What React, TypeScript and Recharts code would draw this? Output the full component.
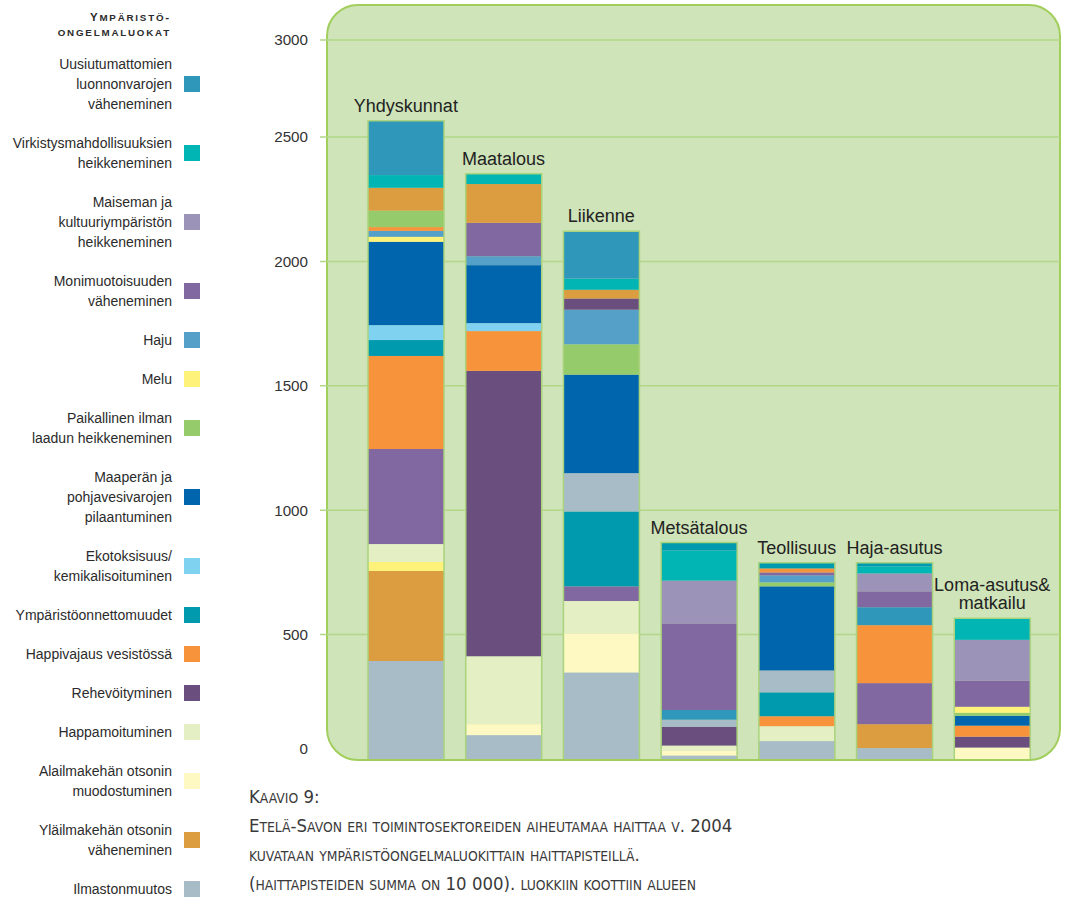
import React from 'react';
import { ComposedChart, Bar, Line, XAxis, YAxis, CartesianGrid } from 'recharts';

// ---------- DATA ----------
const categories = [
  'Yhdyskunnat',
  'Maatalous',
  'Liikenne',
  'Metsätalous',
  'Teollisuus',
  'Haja-asutus',
  'Loma-asutus&\nmatkailu',
];

// stack order, bottom -> top
const seriesNames = [
  'Ilmastonmuutos',
  'Yläilmakehän otsonin\nväheneminen',
  'Alailmakehän otsonin\nmuodostuminen',
  'Happamoituminen',
  'Rehevöityminen',
  'Happivajaus vesistössä',
  'Ympäristöonnettomuudet',
  'Ekotoksisuus/\nkemikalisoituminen',
  'Maaperän ja\npohjavesivarojen\npilaantuminen',
  'Paikallinen ilman\nlaadun heikkeneminen',
  'Melu',
  'Haju',
  'Monimuotoisuuden\nväheneminen',
  'Maiseman ja\nkultuuriympäristön\nheikkeneminen',
  'Virkistysmahdollisuuksien\nheikkeneminen',
  'Uusiutumattomien\nluonnonvarojen\nväheneminen',
];

const seriesColors = [
  '#a8bcc8', '#dc9c40', '#fef8c2', '#e4efc4', '#6a4f7e', '#f7943b', '#009aaf', '#80d3f0',
  '#0065ac', '#96cb6c', '#fff27a', '#55a0c8', '#8268a0', '#9c93b8', '#00b5b4', '#2e97ba',
];

const ilmastonmuutos = [394, 96, 348, 14, 72, 44, 0];
const ylailmakehanOtsoni = [362, 0, 0, 0, 0, 96, 0];
const alailmakehanOtsoni = [36, 44, 157, 20, 0, 0, 46];
const happamoituminen = [72, 273, 130, 20, 60, 0, 0];
const rehevoityminen = [382, 1147, 59, 76, 0, 165, 44];
const happivajaus = [374, 160, 0, 0, 40, 233, 44];
const ymparistoonnettomuudet = [64, 0, 301, 0, 96, 0, 0];
const ekotoksisuus = [60, 32, 154, 28, 88, 0, 0];
const maapera = [335, 233, 396, 0, 338, 0, 40];
const paikallinenIlma = [20, 0, 122, 0, 16, 0, 12];
const melu = [24, 0, 0, 0, 0, 0, 24];
const haju = [15, 36, 139, 39, 28, 72, 0];
const monimuotoisuus = [66, 134, 45, 348, 12, 64, 104];
const maisema = [92, 156, 35, 172, 16, 72, 165];
const virkistys = [51, 41, 45, 121, 0, 28, 87];
const uusiutumattomat = [218, 0, 190, 32, 23, 15, 0];

const seriesValues = [
  ilmastonmuutos, ylailmakehanOtsoni, alailmakehanOtsoni, happamoituminen,
  rehevoityminen, happivajaus, ymparistoonnettomuudet, ekotoksisuus,
  maapera, paikallinenIlma, melu, haju, monimuotoisuus, maisema, virkistys, uusiutumattomat,
];

const yTicks = [0, 500, 1000, 1500, 2000, 2500, 2890];
const yTickLabels = ['0', '500', '1000', '1500', '2000', '2500', '3000'];
const gridValues = [500, 1000, 1500, 2000, 2500, 2890];

// per-bar segment colours that differ from the series colour in the original
const colorOverrides: Record<number, Record<number, string>> = {
  0: { 2: '#fff27a', 4: '#8268a0', 9: '#fff27a', 10: '#55a0c8', 11: '#f7943b', 12: '#96cb6c', 13: '#dc9c40' },
  1: { 13: '#dc9c40' },
  2: { 4: '#8268a0', 7: '#a8bcc8', 12: '#6a4f7e', 13: '#dc9c40' },
  3: { 7: '#a8bcc8', 11: '#2e97ba', 15: '#009aaf' },
  4: { 7: '#a8bcc8', 13: '#f7943b', 15: '#009aaf' },
  5: { 4: '#8268a0', 11: '#2e97ba', 15: '#009aaf' },
};

const legendTitle = ['Ympäristö-', 'ongelmaluokat'];

const captionLines = [
  'Kaavio 9:',
  'Etelä-Savon eri toimintosektoreiden aiheutamaa haittaa v. 2004',
  'kuvataan ympäristöongelmaluokittain haittapisteillä.',
  '(haittapisteiden summa on 10 000). luokkiin koottiin alueen',
];

// ---------- DERIVED ----------
const data = categories.map((c, i) => {
  const row: any = { name: c };
  seriesValues.forEach((vals, s) => {
    row['s' + s] = vals[i];
  });
  row.total = seriesValues.reduce((a, v) => a + v[i], 0);
  return row;
});

const topSeries = categories.map((_, i) => {
  let t = 0;
  seriesValues.forEach((vals, s) => {
    if (vals[i] > 0) t = s;
  });
  return t;
});

const FONT = '"Liberation Sans", Arial, Helvetica, sans-serif';
const NARROW = '"Liberation Sans Narrow", "DejaVu Sans Condensed", "Liberation Sans", sans-serif';
const EDGE = '#a9d37c';

// renders lowercase letters as smaller capitals
const SmallCaps = ({ text, ratio }: { text: string; ratio: number }) => {
  const parts: { t: string; small: boolean }[] = [];
  for (const ch of text) {
    const small = ch !== ch.toUpperCase();
    const last = parts[parts.length - 1];
    if (last && last.small === small) last.t += ch;
    else parts.push({ t: ch, small });
  }
  return (
    <>
      {parts.map((p, k) =>
        p.small ? (
          <span key={k} style={{ fontSize: ratio + 'em' }}>
            {p.t.toUpperCase()}
          </span>
        ) : (
          <span key={k}>{p.t}</span>
        ),
      )}
    </>
  );
};

const makeShape = (s: number) => (props: any) => {
  const { x, y, width, height, payload } = props;
  if (!height || height <= 0) return <g />;
  const idx = categories.indexOf(payload?.name);
  const fill = (colorOverrides[idx] && colorOverrides[idx][s]) || seriesColors[s];
  const isTop = topSeries[idx] === s;
  return (
    <g>
      <rect x={x} y={y} width={width} height={height} fill={fill} />
      <line x1={x} y1={y} x2={x} y2={y + height} stroke={EDGE} strokeWidth={1.5} />
      <line x1={x + width} y1={y} x2={x + width} y2={y + height} stroke={EDGE} strokeWidth={1.5} />
      {isTop && <line x1={x - 0.75} y1={y} x2={x + width + 0.75} y2={y} stroke={EDGE} strokeWidth={1.5} />}
    </g>
  );
};

const YTick = (props: any) => {
  const { y, payload } = props;
  const i = yTicks.indexOf(payload.value);
  const label = i >= 0 ? yTickLabels[i] : String(payload.value);
  return (
    <text
      x={308}
      y={y + (payload.value === 0 ? -10 : 0)}
      dy="0.35em"
      textAnchor="end"
      fontSize={15.2}
      fill="#333"
      fontFamily={FONT}
    >
      {label}
    </text>
  );
};

const CatLabel = (props: any) => {
  const { x, y, index } = props;
  const lines = categories[index].split('\n');
  const n = lines.length;
  return (
    <g>
      {lines.map((t, k) => (
        <text
          key={k}
          x={x}
          y={y - 9 - (n - 1 - k) * 18}
          textAnchor="middle"
          fontSize={18}
          fill="#222"
          fontFamily={FONT}
        >
          {t}
        </text>
      ))}
    </g>
  );
};

const Legend = () => {
  const order = seriesNames.map((_, s) => s).reverse();
  let top = 54;
  const items = order.map((s) => {
    const lines = seriesNames[s].split('\n');
    const h = lines.length * 20;
    const item = (
      <div key={s} style={{ position: 'absolute', left: 0, top, width: 210, height: h }}>
        <div
          style={{
            position: 'absolute',
            right: 38,
            top: 0,
            textAlign: 'right',
            fontSize: 14,
            lineHeight: '20px',
            color: '#2b2b2b',
            fontFamily: FONT,
            whiteSpace: 'nowrap',
          }}
        >
          {lines.map((l, k) => (
            <div key={k}>{l}</div>
          ))}
        </div>
        <div
          style={{
            position: 'absolute',
            left: 184,
            top: h / 2 - 8,
            width: 16,
            height: 16,
            background: seriesColors[s],
          }}
        />
      </div>
    );
    top += h + 19;
    return item;
  });
  return (
    <div style={{ position: 'absolute', left: 0, top: 0, width: 220, height: 904 }}>
      <div
        style={{
          position: 'absolute',
          right: 49,
          top: 10,
          textAlign: 'right',
          fontSize: 11.5,
          lineHeight: '15px',
          fontWeight: 'bold',
          letterSpacing: 1.8,
          color: '#2b2b2b',
          fontFamily: FONT,
          whiteSpace: 'nowrap',
        }}
      >
        {legendTitle.map((l, k) => (
          <div key={k}>
            <SmallCaps text={l} ratio={0.85} />
          </div>
        ))}
      </div>
      {items}
    </div>
  );
};

export default function App() {
  return (
    <div
      style={{
        position: 'absolute',
        left: 0,
        top: 0,
        width: 1066,
        height: 904,
        overflow: 'hidden',
        background: '#fff',
      }}
    >
      <div
        style={{
          position: 'absolute',
          left: 326,
          top: 4,
          width: 735,
          height: 757,
          boxSizing: 'border-box',
          border: '2.5px solid #a2ce5c',
          borderRadius: 32,
          background: '#cfe4b8',
        }}
      />
      <div style={{ position: 'absolute', left: 0, top: 0 }}>
        <ComposedChart
          width={1066}
          height={904}
          data={data}
          margin={{ top: 40, right: 6, bottom: 145, left: 0 }}
          barCategoryGap={0}
        >
          <CartesianGrid
            vertical={false}
            horizontalValues={gridValues}
            stroke="#b2d788"
            strokeWidth={1.5}
          />
          <XAxis dataKey="name" hide padding={{ left: 37, right: 19 }} />
          <YAxis
            domain={[0, 2890]}
            ticks={yTicks}
            width={320}
            axisLine={false}
            tickLine={false}
            tick={<YTick />}
            interval={0}
            allowDataOverflow
          />
          {seriesValues.map((_, s) => (
            <Bar
              key={s}
              dataKey={'s' + s}
              stackId="a"
              barSize={76}
              shape={makeShape(s)}
              isAnimationActive={false}
            />
          ))}
          <Line
            dataKey="total"
            stroke="none"
            dot={false}
            activeDot={false}
            isAnimationActive={false}
            label={<CatLabel />}
          />
        </ComposedChart>
      </div>
      <Legend />
      <div
        style={{
          position: 'absolute',
          left: 249,
          top: 783,
          fontSize: 18.4,
          lineHeight: '28px',
          color: '#3a3a3a',
          fontFamily: NARROW,
          whiteSpace: 'nowrap',
        }}
      >
        {captionLines.map((l, k) => (
          <div key={k}>
            <SmallCaps text={l} ratio={0.75} />
          </div>
        ))}
      </div>
    </div>
  );
}
